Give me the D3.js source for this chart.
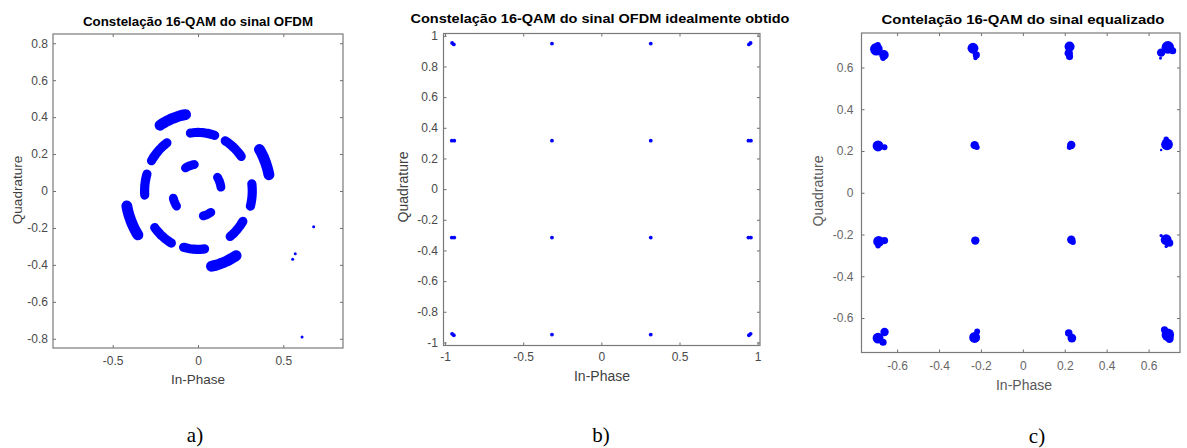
<!DOCTYPE html>
<html>
<head>
<meta charset="utf-8">
<script src="https://cdn.jsdelivr.net/npm/d3@7"></script>
<style>
body{margin:0;background:#fff}
svg{display:block}
text{font-family:"Liberation Sans",Arial,sans-serif}
</style>
</head>
<body>
<div id="chart"></div>
<script>
// ---- panel a: rotated clusters, each one an arc [radius, start deg, end deg, thickness]
var aRadius=[0.42,0.317,0.315,0.425,0.318,0.313,0.425,0.322,0.316,0.415,0.31,0.318,0.145,0.136,0.15,0.138];
var aStart =[100,72,36.5,12,125,163,191,218,254.5,281,307.5,-15,98.5,9,195,283];
var aEnd   =[122,98,59.5,32,149,184,214,241,277,302.5,328,7,120.5,33,213,303];
var aThick =[0.064,0.054,0.054,0.064,0.054,0.054,0.064,0.054,0.054,0.064,0.054,0.054,0.052,0.052,0.052,0.052];
var aOutI=[0.678,0.57,0.555,0.61];
var aOutQ=[-0.193,-0.34,-0.37,-0.79];
var aTicksX=[-0.5,0,0.5];
var aTicksY=[-0.8,-0.6,-0.4,-0.2,0,0.2,0.4,0.6,0.8];

// ---- panel b: ideal constellation
var bI=[-0.955,-0.944,-0.316,0.316,0.944,0.955,
        -0.957,-0.941,-0.316,0.316,0.941,0.957,
        -0.957,-0.941,-0.316,0.316,0.941,0.957,
        -0.955,-0.944,-0.316,0.316,0.944,0.955];
var bQ=[0.953,0.944,0.949,0.949,0.944,0.953,
        0.316,0.316,0.316,0.316,0.316,0.316,
        -0.316,-0.316,-0.316,-0.316,-0.316,-0.316,
        -0.944,-0.953,-0.949,-0.949,-0.953,-0.944];
var bTicksX=[-1,-0.5,0,0.5,1];
var bTicksY=[-1,-0.8,-0.6,-0.4,-0.2,0,0.2,0.4,0.6,0.8,1];

// ---- panel c: equalized clusters as lobes [I, Q, r]
var cI=[-0.699,-0.663,-0.692,-0.667, -0.238,-0.222,-0.226, 0.223,0.219,0.223, 0.692,0.660,0.715,0.657,
        -0.691,-0.660, -0.230,-0.219, 0.231,0.223, 0.688,0.684,0.660,
        -0.688,-0.660,-0.691, -0.227, 0.231,0.239, 0.684,0.700,0.684,0.660,
        -0.691,-0.660,-0.667, -0.230,-0.218, 0.219,0.234, 0.692,0.676,0.700];
var cQ=[0.687,0.660,0.708,0.644, 0.692,0.660,0.644, 0.700,0.668,0.652, 0.696,0.671,0.680,0.644,
        0.224,0.218, 0.228,0.218, 0.229,0.218, 0.232,0.256,0.205,
        -0.233,-0.229,-0.254, -0.229, -0.225,-0.236, -0.225,-0.241,-0.257,-0.205,
        -0.696,-0.667,-0.716, -0.693,-0.664, -0.672,-0.696, -0.680,-0.656,-0.699];
var cR=[0.030,0.023,0.014,0.013, 0.026,0.017,0.010, 0.024,0.020,0.017, 0.030,0.020,0.017,0.007,
        0.026,0.014, 0.020,0.013, 0.020,0.013, 0.028,0.013,0.006,
        0.026,0.017,0.013, 0.020, 0.020,0.014, 0.026,0.018,0.008,0.008,
        0.026,0.020,0.017, 0.026,0.014, 0.018,0.021, 0.030,0.017,0.020];
var cTicks=[-0.6,-0.4,-0.2,0,0.2,0.4,0.6];

var W=1187,H=448;
var svg=d3.select("#chart").append("svg").attr("width",W).attr("height",H);

var fmt=function(v){return String(Math.round(v*10)/10)};

// one MATLAB-like axes box with ticks on all four sides
function panel(p){
  var x=d3.scaleLinear().domain(p.xd).range([p.left,p.right]);
  var y=d3.scaleLinear().domain(p.yd).range([p.bottom,p.top]);
  var g=svg.append("g");

  g.append("g").attr("transform","translate(0,"+p.bottom+")")
   .call(d3.axisBottom(x).tickValues(p.tx).tickSizeInner(-3).tickSizeOuter(0).tickPadding(p.padX).tickFormat(fmt));
  g.append("g").attr("transform","translate(0,"+p.top+")")
   .call(d3.axisTop(x).tickValues(p.tx).tickSizeInner(-3).tickSizeOuter(0).tickFormat(""));
  g.append("g").attr("transform","translate("+p.left+",0)")
   .call(d3.axisLeft(y).tickValues(p.ty).tickSizeInner(-3).tickSizeOuter(0).tickPadding(p.padY).tickFormat(fmt));
  g.append("g").attr("transform","translate("+p.right+",0)")
   .call(d3.axisRight(y).tickValues(p.ty).tickSizeInner(-3).tickSizeOuter(0).tickFormat(""));

  g.selectAll(".domain").remove();
  g.selectAll(".tick line").attr("stroke","#6e6e6e");
  g.selectAll(".tick text").attr("fill",p.tickColor).style("font-size","12px")
   .style("font-family",'"Liberation Sans",Arial,sans-serif');

  g.append("rect").attr("x",p.left).attr("y",p.top)
   .attr("width",p.right-p.left).attr("height",p.bottom-p.top)
   .attr("fill","none").attr("stroke","#7a7a7a").attr("stroke-width",1.2);

  g.append("text").attr("x",p.titleX).attr("y",p.titleY).attr("text-anchor","middle")
   .attr("textLength",p.titleW).attr("lengthAdjust","spacingAndGlyphs")
   .style("font-weight","bold").style("font-size","13px").attr("fill","#000").text(p.title);

  g.append("text").attr("x",p.xlabX).attr("y",p.xlabY).attr("text-anchor","middle")
   .style("font-size",p.labSize+"px").attr("fill",p.labColor).text("In-Phase");
  g.append("text").attr("transform","translate("+p.ylabX+","+p.ylabY+") rotate(-90)")
   .attr("text-anchor","middle").attr("dy","0.35em")
   .style("font-size",p.labSize+"px").attr("fill",p.labColor).text("Quadrature");

  g.append("text").attr("x",p.subX).attr("y",p.subY).attr("text-anchor","middle")
   .style("font-family",'"Liberation Serif","Times New Roman",serif').style("font-size","21px")
   .attr("fill","#000").text(p.sub);

  var plot=g.append("g");
  return {g:plot,x:x,y:y};
}

// ---------- a)
var pa=panel({left:53,right:343,top:34,bottom:348,xd:[-0.85,0.85],yd:[-0.85,0.85],
  tx:aTicksX,ty:aTicksY,padX:8,padY:5,tickColor:"#4a4a4a",
  title:"Constelação 16-QAM do sinal OFDM",titleX:198,titleY:26,titleW:230,
  xlabX:198,xlabY:384,ylabX:17,ylabY:190,labSize:13.5,labColor:"#404040",
  sub:"a)",subX:195,subY:442});

var arcLine=d3.line().curve(d3.curveCardinal);
aRadius.forEach(function(r,i){
  var n=10, pts=[];
  for(var k=0;k<=n;k++){
    var t=(aStart[i]+(aEnd[i]-aStart[i])*k/n)*Math.PI/180;
    pts.push([pa.x(r*Math.cos(t)),pa.y(r*Math.sin(t))]);
  }
  pa.g.append("path").attr("d",arcLine(pts)).attr("fill","none")
    .attr("stroke","#0000ff").attr("stroke-linecap","round")
    .attr("stroke-width",pa.x(aThick[i])-pa.x(0));
});
pa.g.selectAll("circle.out").data(aOutI).enter().append("circle")
  .attr("cx",function(d){return pa.x(d)})
  .attr("cy",function(d,i){return pa.y(aOutQ[i])})
  .attr("r",1.5).attr("fill","#0000ff");

// ---------- b)
var pb=panel({left:443.5,right:760,top:33.5,bottom:345.5,xd:[-1.01,1.015],yd:[-1.02,1.015],
  tx:bTicksX,ty:bTicksY,padX:7,padY:5.5,tickColor:"#4a4a4a",
  title:"Constelação 16-QAM do sinal OFDM idealmente obtido",titleX:600,titleY:23,titleW:379,
  xlabX:602,xlabY:381,ylabX:403,ylabY:187,labSize:14,labColor:"#404040",
  sub:"b)",subX:601,subY:442});

pb.g.selectAll("circle").data(bI).enter().append("circle")
  .attr("cx",function(d){return pb.x(d)})
  .attr("cy",function(d,i){return pb.y(bQ[i])})
  .attr("r",1.9).attr("fill","#0000ff");

// ---------- c)
var pc=panel({left:861.5,right:1180,top:33,bottom:352.5,xd:[-0.77,0.75],yd:[-0.765,0.765],
  tx:cTicks,ty:cTicks,padX:9,padY:8,tickColor:"#666",
  title:"Contelação 16-QAM do sinal equalizado",titleX:1023,titleY:23.5,titleW:283,
  xlabX:1024,xlabY:390,ylabX:818,ylabY:191,labSize:14,labColor:"#5a5a5a",
  sub:"c)",subX:1037,subY:443});

pc.g.selectAll("circle").data(cI).enter().append("circle")
  .attr("cx",function(d){return pc.x(d)})
  .attr("cy",function(d,i){return pc.y(cQ[i])})
  .attr("r",function(d,i){return pc.x(cR[i])-pc.x(0)})
  .attr("fill","#0000ff");
</script>
</body>
</html>
